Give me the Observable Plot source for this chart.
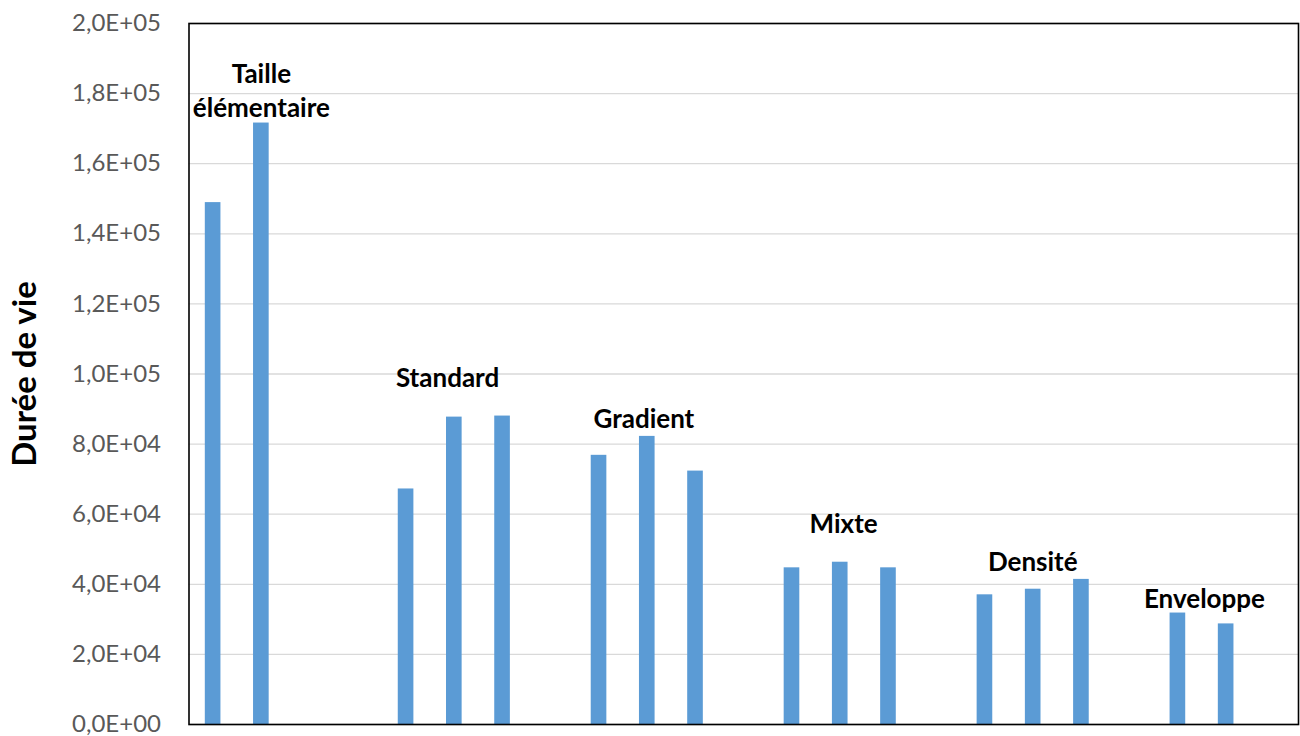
<!DOCTYPE html>
<html>
<head>
<meta charset="utf-8">
<script src="https://cdn.jsdelivr.net/npm/d3@7"></script>
<script src="https://cdn.jsdelivr.net/npm/@observablehq/plot@0.6"></script>
<style>
  html, body { margin: 0; padding: 0; background: #fff; }
  #chart { width: 1300px; height: 736px; }
</style>
</head>
<body>
<div id="chart"></div>
<script>
// Groups of the chart (each group has 3 category slots; missing = null), separated by an empty slot
const groups = ["Taille\nélémentaire", "Standard", "Gradient", "Mixte", "Densité", "Enveloppe"];
const tailleValues    = [148900, 171600, null];
const standardValues  = [67200, 87700, 88000];
const gradientValues  = [76800, 82200, 72300];
const mixteValues     = [44700, 46300, 44700];
const densiteValues   = [37000, 38600, 41400];
const enveloppeValues = [31800, 28700, null];
// label heights (data units) and label anchor within group (slot index in group)
const labelY      = [181300, 99500, 87700, 57800, 46900, 36300];
const labelAnchor = [1, 0.86, 0.93, 1.07, 0.99, 0.55];
const yTicks = [0, 20000, 40000, 60000, 80000, 100000, 120000, 140000, 160000, 180000, 200000];
const yTitle = "Durée de vie";

const seriesByGroup = [tailleValues, standardValues, gradientValues, mixteValues, densiteValues, enveloppeValues];
const slotsPerGroup = 4; // 3 bars + 1 gap
const bars = [];
seriesByGroup.forEach((vals, g) => {
  vals.forEach((v, k) => {
    if (v != null) bars.push({group: groups[g], slot: g * slotsPerGroup + k, value: v});
  });
});
const nSlots = groups.length * slotsPerGroup - 1;
const labels = groups.map((name, g) => ({name, x: g * slotsPerGroup + labelAnchor[g], y: labelY[g]}));

const fmt = d => {
  const [m, e] = d.toExponential(1).split("e");
  const sign = e[0];
  const digits = e.slice(1).padStart(2, "0");
  return m.replace(".", ",") + "E" + sign + digits;
};

const W = 1300, H = 736;
const chart = Plot.plot({
  width: W,
  height: H,
  marginLeft: 188.5,
  marginRight: 2,
  marginTop: 23,
  marginBottom: 12,
  style: {fontFamily: "Lato, sans-serif", background: "#fff"},
  x: {domain: [-0.5, nSlots - 0.5], axis: null},
  y: {domain: [0, 200000], ticks: yTicks, grid: false},
  marks: [
    Plot.gridY(yTicks, {stroke: "#d9d9d9", strokeOpacity: 1, strokeWidth: 1.3}),
    Plot.rectY(bars, {x1: d => d.slot - 0.162, x2: d => d.slot + 0.162, y: "value", fill: "#5b9bd5"}),
    Plot.axisY(yTicks, {tickSize: 0, tickPadding: 28, tickFormat: fmt, fontSize: 24, fill: "#595959",
      label: yTitle, labelAnchor: "center", labelOffset: 176}),
    Plot.frame({stroke: "#000", strokeWidth: 1.6}),
    Plot.text(labels, {x: "x", y: "y", text: "name", fontSize: 26, fontWeight: "bold", fill: "#000",
      lineHeight: 1.32, lineAnchor: "middle"})
  ]
});
document.getElementById("chart").appendChild(chart);
// restyle the axis title (bold, larger, black, no arrow)
const lab = d3.select(chart).selectAll('[aria-label="y-axis label"]');
lab.attr("font-size", 33).attr("font-weight", "bold").attr("fill", "#000").attr("fill-opacity", 1);
lab.selectAll("text").attr("font-size", 33).attr("font-weight", "bold").attr("fill", "#000").text(yTitle);
</script>
</body>
</html>
